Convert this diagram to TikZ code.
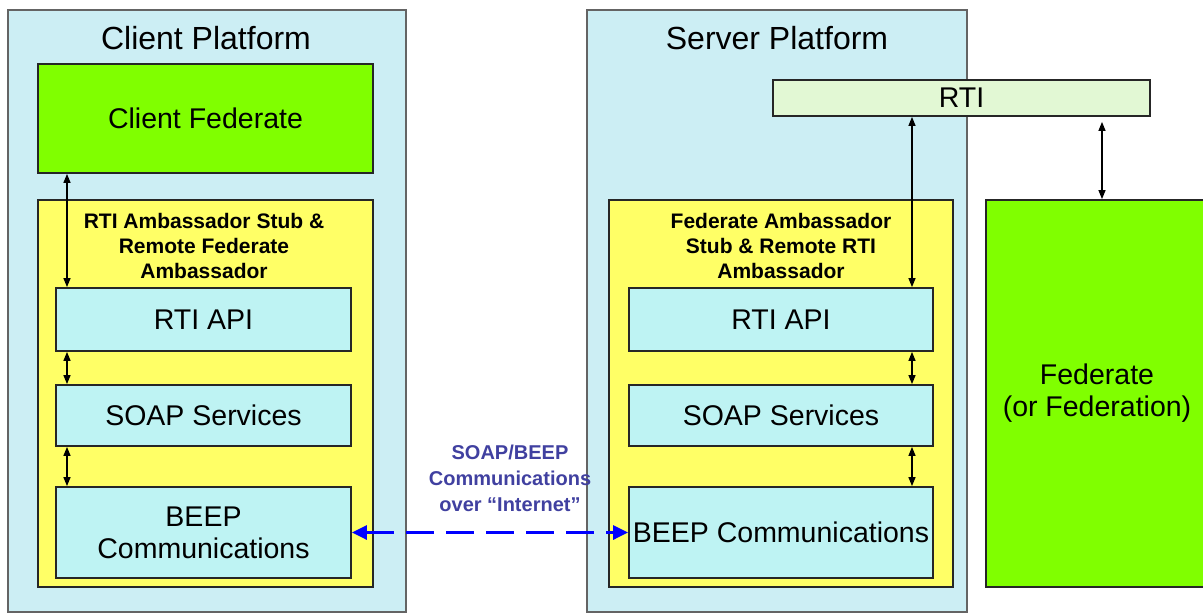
\documentclass[tikz,border=0pt]{standalone}
\usepackage{fontspec}
\setmainfont{Liberation Sans}
\usetikzlibrary{arrows.meta}
\definecolor{platfill}{RGB}{204,238,244}
\definecolor{platline}{RGB}{100,100,100}
\definecolor{cyanbox}{RGB}{190,243,243}
\definecolor{ambyellow}{RGB}{255,255,102}
\definecolor{fedgreen}{RGB}{128,255,0}
\definecolor{rtigreen}{RGB}{226,248,212}
\definecolor{linkblue}{RGB}{0,0,255}
\definecolor{labelblue}{RGB}{64,64,160}
\tikzset{
  platform/.style={draw=platline, line width=1.5pt, fill=platfill, inner sep=0pt},
  layerbox/.style={draw=black!85, line width=1.8pt, inner sep=0pt, align=center,
    font=\fontsize{28.5}{32}\selectfont},
  titletext/.style={inner sep=0pt, font=\fontsize{32}{36}\selectfont},
  ambtext/.style={inner sep=0pt, align=center, font=\bfseries\fontsize{21}{25}\selectfont},
  dbl/.style={line width=1.3pt, {Triangle[length=9pt,width=7pt]}-{Triangle[length=9pt,width=7pt]}},
  netlink/.style={linkblue, line width=3pt, dash pattern=on 28pt off 12pt,
    {Triangle[length=15pt,width=14pt]}-{Triangle[length=15pt,width=14pt]}},
  netlabel/.style={inner sep=0pt, align=center, text=labelblue,
    font=\bfseries\fontsize{20}{26}\selectfont}
}
\begin{document}
\begin{tikzpicture}[x=1pt,y=-1pt]
\useasboundingbox (0,0) rectangle (1203,614);

% platforms
\node[platform, minimum width=398pt, minimum height=602pt] (cplat) at (207,311) {};
\node[platform, minimum width=380pt, minimum height=602pt] (splat) at (777,311) {};
\node[titletext] (ctitle) at (206,38) {Client Platform};
\node[titletext] (stitle) at (777,38) {Server Platform};

% client side
\node[layerbox, fill=fedgreen, minimum width=335pt, minimum height=109pt] (cfed) at (205.5,118.5) {Client Federate};
\node[layerbox, fill=ambyellow, minimum width=335pt, minimum height=387pt] (camb) at (205.5,393.5) {};
\node[ambtext] (cambt) at (204,246) {RTI Ambassador Stub \&\\Remote Federate\\Ambassador};
\node[layerbox, fill=cyanbox, minimum width=295pt, minimum height=63pt] (capi) at (203.5,319.5) {RTI API};
\node[layerbox, fill=cyanbox, minimum width=295pt, minimum height=61pt] (csoap) at (203.5,415.5) {SOAP Services};
\node[layerbox, fill=cyanbox, minimum width=295pt, minimum height=91pt] (cbeep) at (203.5,532.5) {BEEP\\Communications};

% server side
\node[layerbox, fill=ambyellow, minimum width=344pt, minimum height=387pt] (samb) at (781,393.5) {};
\node[ambtext] (sambt) at (781,246) {Federate Ambassador\\Stub \& Remote RTI\\Ambassador};
\node[layerbox, fill=cyanbox, minimum width=304pt, minimum height=63pt] (sapi) at (781,319.5) {RTI API};
\node[layerbox, fill=cyanbox, minimum width=304pt, minimum height=61pt] (ssoap) at (781,415.5) {SOAP Services};
\node[layerbox, fill=cyanbox, minimum width=304pt, minimum height=91pt] (sbeep) at (781,532.5) {BEEP Communications};
\node[layerbox, fill=rtigreen, minimum width=377pt, minimum height=36pt] (rti) at (961.5,98) {RTI};
\node[layerbox, fill=fedgreen, minimum width=222pt, minimum height=387pt] (fed) at (1097,393.5) {Federate\\(or Federation)};

% arrow columns
\coordinate (lx) at (67,0);
\coordinate (rx) at (912,0);
\coordinate (fx) at (1102,0);

\draw[dbl] (cfed.south -| lx) -- (capi.north -| lx);
\draw[dbl] (capi.south -| lx) -- (csoap.north -| lx);
\draw[dbl] (csoap.south -| lx) -- (cbeep.north -| lx);

\draw[dbl] (rti.south -| rx) -- (sapi.north -| rx);
\draw[dbl] (sapi.south -| rx) -- (ssoap.north -| rx);
\draw[dbl] (ssoap.south -| rx) -- (sbeep.north -| rx);

\draw[dbl] ([yshift=-5pt]rti.south -| fx) -- (fed.north -| fx);

% network link
\draw[netlink] (cbeep.east) -- (sbeep.west);
\node[netlabel] (netl) at (510,478) {SOAP/BEEP\\Communications\\over \textquotedblleft Internet\textquotedblright};
\end{tikzpicture}
\end{document}
